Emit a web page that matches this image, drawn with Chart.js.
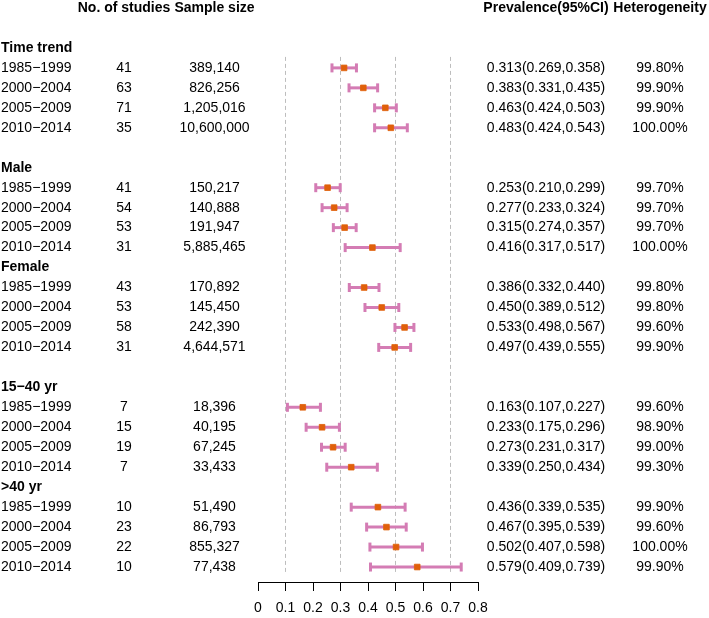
<!DOCTYPE html>
<html>
<head>
<meta charset="utf-8">
<script src="https://cdn.jsdelivr.net/npm/chart.js@4/dist/chart.umd.min.js"></script>
<style>
  html, body { margin: 0; padding: 0; background: #fff; }
  #wrap { width: 709px; height: 618px; position: relative; }
</style>
</head>
<body>
<div id="wrap"><canvas id="forestChart" width="709" height="618"></canvas></div>
<script>
// Dados do forest plot
const groupNames = ['Time trend', 'Male', 'Female', '15\u221240 yr', '>40 yr'];
const periods = ['1985\u22121999', '2000\u22122004', '2005\u22122009', '2010\u22122014'];

const studies = [
    [41, 63, 71, 35],
    [41, 54, 53, 31],
    [43, 53, 58, 31],
    [7, 15, 19, 7],
    [10, 23, 22, 10]
];
const sampleSizes = [
    ['389,140', '826,256', '1,205,016', '10,600,000'],
    ['150,217', '140,888', '191,947', '5,885,465'],
    ['170,892', '145,450', '242,390', '4,644,571'],
    ['18,396', '40,195', '67,245', '33,433'],
    ['51,490', '86,793', '855,327', '77,438']
];
const prevalence = [
    [0.313, 0.383, 0.463, 0.483],
    [0.253, 0.277, 0.315, 0.416],
    [0.386, 0.450, 0.533, 0.497],
    [0.163, 0.233, 0.273, 0.339],
    [0.436, 0.467, 0.502, 0.579]
];
const lowerCI = [
    [0.269, 0.331, 0.424, 0.424],
    [0.210, 0.233, 0.274, 0.317],
    [0.332, 0.389, 0.498, 0.439],
    [0.107, 0.175, 0.231, 0.250],
    [0.339, 0.395, 0.407, 0.409]
];
const upperCI = [
    [0.358, 0.435, 0.503, 0.543],
    [0.299, 0.324, 0.357, 0.517],
    [0.440, 0.512, 0.567, 0.555],
    [0.227, 0.296, 0.317, 0.434],
    [0.535, 0.539, 0.598, 0.739]
];
const heterogeneity = [
    ['99.80%', '99.90%', '99.90%', '100.00%'],
    ['99.70%', '99.70%', '99.70%', '100.00%'],
    ['99.80%', '99.80%', '99.60%', '99.90%'],
    ['99.60%', '98.90%', '99.00%', '99.30%'],
    ['99.90%', '99.60%', '100.00%', '99.90%']
];
const refLines = [0.1, 0.3, 0.5, 0.7];
const xTicks = [0, 0.1, 0.2, 0.3, 0.4, 0.5, 0.6, 0.7, 0.8];

// Layout das linhas (linha 0 = cabeçalho)
const headerRows = [2, 8, 13, 19, 24];
const rowMax = 28.75;
const refTop = 2.45;
const refBottom = 28.35;

const pink = '#D47CB4';
const orange = '#E0600A';
const fontNormal = '14px "Liberation Sans", Arial, sans-serif';
const fontBold = 'bold 14px "Liberation Sans", Arial, sans-serif';

// Montar datasets
const pointData = [];
const datasets = [];
groupNames.forEach(function(g, gi) {
    periods.forEach(function(p, pi) {
        const row = headerRows[gi] + 1 + pi;
        pointData.push({ x: prevalence[gi][pi], y: row });
        datasets.push({
            data: [{ x: lowerCI[gi][pi], y: row }, { x: upperCI[gi][pi], y: row }],
            showLine: true,
            borderColor: pink,
            borderWidth: 3,
            pointStyle: 'line',
            rotation: 90,
            pointRadius: 4.5,
            pointBorderWidth: 3,
            pointBorderColor: pink,
            order: 1
        });
    });
});
refLines.forEach(function(v) {
    datasets.push({
        data: [{ x: v, y: refTop }, { x: v, y: refBottom }],
        showLine: true,
        borderColor: '#BDBDBD',
        borderWidth: 1,
        borderDash: [4, 3],
        pointRadius: 0,
        order: 2
    });
});
datasets.unshift({
    data: pointData,
    pointStyle: 'rect',
    pointRadius: 4,
    backgroundColor: orange,
    borderColor: orange,
    borderWidth: 0.8,
    order: 0
});

// Plugin para o texto da tabela
const tablePlugin = {
    id: 'tableText',
    afterDraw: function(chart) {
        const ctx = chart.ctx;
        const y = chart.scales.y;
        ctx.save();
        ctx.fillStyle = '#000';
        ctx.textBaseline = 'middle';

        const yHead = y.getPixelForValue(0);
        ctx.font = fontBold;
        ctx.textAlign = 'center';
        ctx.fillText('No. of studies', 124, yHead);
        ctx.fillText('Sample size', 214.5, yHead);
        ctx.fillText('Prevalence(95%CI)', 546, yHead);
        ctx.fillText('Heterogeneity', 660, yHead);

        groupNames.forEach(function(g, gi) {
            const yg = y.getPixelForValue(headerRows[gi]);
            ctx.font = fontBold;
            ctx.textAlign = 'left';
            ctx.fillText(g, 1, yg);
            ctx.font = fontNormal;
            periods.forEach(function(p, pi) {
                const yr = y.getPixelForValue(headerRows[gi] + 1 + pi);
                ctx.textAlign = 'left';
                ctx.fillText(p, 1, yr);
                ctx.textAlign = 'center';
                ctx.fillText(String(studies[gi][pi]), 124, yr);
                ctx.fillText(sampleSizes[gi][pi], 214.5, yr);
                const txt = prevalence[gi][pi].toFixed(3) + '(' + lowerCI[gi][pi].toFixed(3) + ',' + upperCI[gi][pi].toFixed(3) + ')';
                ctx.fillText(txt, 546, yr);
                ctx.fillText(heterogeneity[gi][pi], 660, yr);
            });
        });
        ctx.restore();
    }
};

new Chart(document.getElementById('forestChart').getContext('2d'), {
    type: 'scatter',
    data: { datasets: datasets },
    options: {
        responsive: false,
        animation: false,
        layout: { padding: { left: 258, right: 231, top: 8, bottom: 0 } },
        plugins: {
            legend: { display: false },
            tooltip: { enabled: false }
        },
        scales: {
            x: {
                type: 'linear',
                min: 0,
                max: 0.8,
                afterBuildTicks: function(scale) {
                    scale.ticks = xTicks.map(function(v) { return { value: v }; });
                },
                afterFit: function(scale) { scale.height = 36; },
                grid: {
                    drawOnChartArea: false,
                    drawTicks: true,
                    tickLength: 9,
                    color: '#000',
                    lineWidth: 1
                },
                border: { display: true, color: '#000', width: 1 },
                ticks: {
                    padding: 9,
                    color: '#000',
                    font: { family: '"Liberation Sans", Arial, sans-serif', size: 14 },
                    callback: function(v) { return String(+v.toFixed(1)); }
                }
            },
            y: {
                type: 'linear',
                display: false,
                reverse: true,
                min: 0,
                max: rowMax
            }
        }
    },
    plugins: [tablePlugin]
});
</script>
</body>
</html>
